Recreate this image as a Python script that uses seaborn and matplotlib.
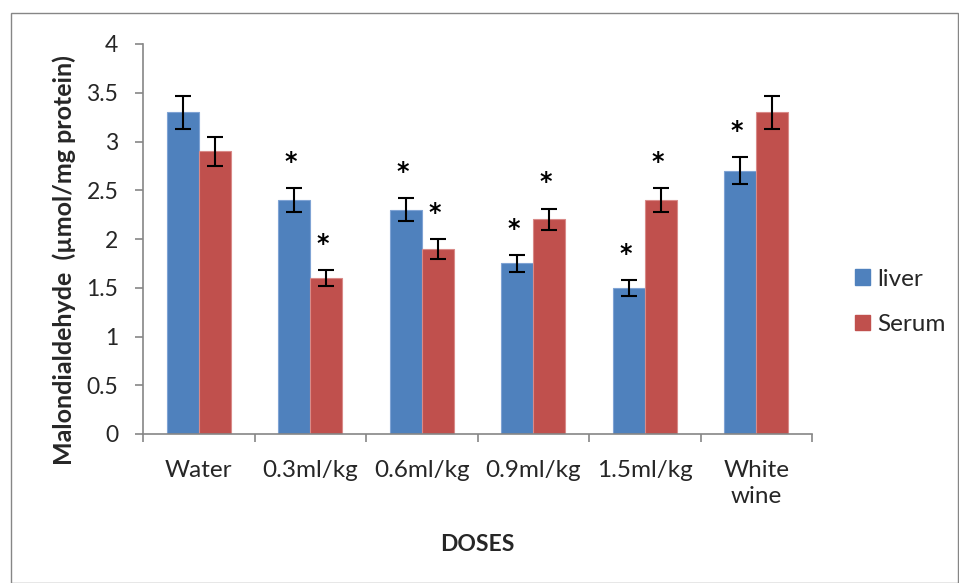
import matplotlib
matplotlib.use("Agg")
import matplotlib.pyplot as plt
import seaborn as sns
import pandas as pd
from matplotlib.patches import Rectangle, Patch

categories = ["Water", "0.3ml/kg", "0.6ml/kg", "0.9ml/kg", "1.5ml/kg", "White\nwine"]
liver = [3.3, 2.4, 2.3, 1.75, 1.5, 2.7]
serum = [2.9, 1.6, 1.9, 2.2, 2.4, 3.3]
liver_err = [0.17, 0.12, 0.12, 0.085, 0.08, 0.14]
serum_err = [0.15, 0.08, 0.1, 0.11, 0.12, 0.17]
liver_star = [False, True, True, True, True, True]
serum_star = [False, True, True, True, True, False]
series = ["liver", "Serum"]
colors = ["#4F81BD", "#C0504D"]
edges = ["#7FA3D4", "#D98A88"]

df = pd.DataFrame({
    "dose": categories * 2,
    "value": liver + serum,
    "series": [series[0]] * len(categories) + [series[1]] * len(categories),
})

sns.set_style("white")
plt.rcParams["font.family"] = ["Lato", "DejaVu Sans"]

W, H = 959, 583
L, R, B, T = 143, 812, 434, 44
fig = plt.figure(figsize=(W / 100, H / 100), dpi=100)
ax = fig.add_axes([L / W, 1 - B / H, (R - L) / W, (B - T) / H])

sns.barplot(data=df, x="dose", y="value", hue="series", order=categories,
            hue_order=series, palette=colors, width=0.575, errorbar=None,
            legend=False, ax=ax, saturation=1)

for cont, errs, stars, ec in zip(ax.containers, [liver_err, serum_err],
                                 [liver_star, serum_star], edges):
    xs = [p.get_x() + p.get_width() / 2 for p in cont]
    ys = [p.get_height() for p in cont]
    for p in cont:
        p.set_edgecolor(ec)
        p.set_linewidth(0.8)
    ax.errorbar(xs, ys, yerr=errs, fmt="none", ecolor="black", elinewidth=1.5,
                capsize=5.5, capthick=1.5, zorder=5)
    for x, y, e, s in zip(xs, ys, errs, stars):
        if s:
            ax.text(x - 0.03, y + e + 0.27, "*", ha="center", va="center",
                    fontsize=17, fontweight="bold", color="black",
                    family=["DejaVu Sans"])

ax.set_xlim(-0.5, len(categories) - 0.5)
ax.set_ylim(0, 4)
ax.set_yticks([0, 0.5, 1, 1.5, 2, 2.5, 3, 3.5, 4])
ax.set_yticklabels(["0", "0.5", "1", "1.5", "2", "2.5", "3", "3.5", "4"])
ax.set_xticks(range(len(categories)))
ax.set_xticklabels(categories, linespacing=1.25)
ax.set_xticks([i - 0.5 for i in range(len(categories) + 1)], minor=True)

for side in ["top", "right"]:
    ax.spines[side].set_visible(False)
for side in ["left", "bottom"]:
    ax.spines[side].set_color("#868686")
    ax.spines[side].set_linewidth(1.2)

ax.tick_params(axis="y", which="major", direction="out", length=5.8, width=1.2,
               color="#868686", left=True, labelsize=16.5, pad=12)
ax.tick_params(axis="x", which="major", length=0, labelsize=17.5, pad=19)
ax.tick_params(axis="x", which="minor", direction="out", length=5.8, width=1.2,
               color="#868686", bottom=True)

ax.set_xlabel("DOSES", fontsize=16.5, fontweight="bold", labelpad=20)
ax.set_ylabel("Malondialdehyde  (\u00b5mol/mg protein)", fontsize=18,
              fontweight="bold")
ax.yaxis.set_label_coords((76 - L) / (R - L), (B - 260) / (B - T))

handles = [Patch(facecolor=c, edgecolor=c) for c in colors]
fig.legend(handles, series, loc="center left", bbox_to_anchor=(833 / W, 1 - 302 / H),
           frameon=False, fontsize=17.5, handlelength=0.62, handleheight=0.62,
           handletextpad=0.3, labelspacing=1.0)

fig.patches.append(Rectangle((11 / W, 0), 1 - 11 / W - 0.001, 1 - 13 / H,
                             transform=fig.transFigure, fill=False,
                             edgecolor="#868686", linewidth=1.0))

fig.savefig("out.png", dpi=100)
